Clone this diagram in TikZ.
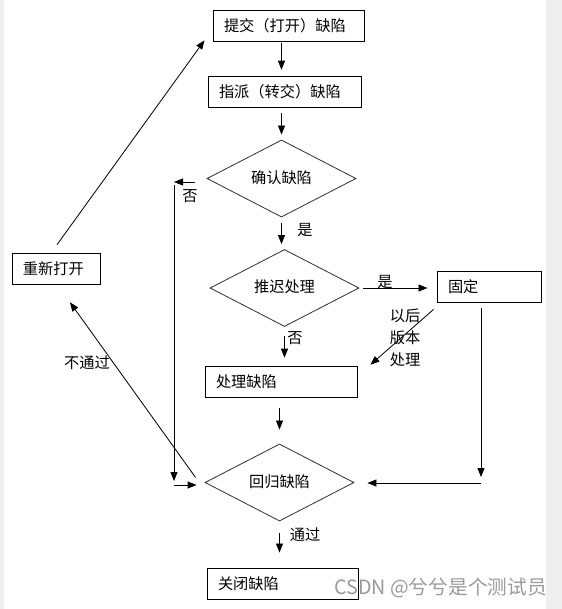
\documentclass[tikz,border=0pt]{standalone}
\usepackage{fontspec}
\usepackage{xcolor}
\usetikzlibrary{arrows.meta,positioning,shapes.geometric,calc}
\newfontfamily\cjk{Noto Sans CJK SC}
\definecolor{ink}{HTML}{000000}
\definecolor{rim}{HTML}{333333}
\definecolor{strip}{HTML}{EFEFEF}
\definecolor{stampgray}{HTML}{9A9A9A}

\begin{document}
\begin{tikzpicture}[
  x=0.3mm,y=-0.3mm,
  font=\cjk\fontsize{13}{15}\selectfont,
  >={Triangle[length=2.7mm,width=2.1mm]},
  arrow/.style={->,line width=0.7pt,draw=ink},
  card/.style={draw=ink,line width=0.8pt,inner xsep=3.3mm,inner ysep=0pt,
               minimum height=9.5mm,align=left,text=ink},
  choice/.style={diamond,draw=rim,line width=0.7pt,inner sep=0pt,
                 minimum width=44.7mm,minimum height=21.3mm,text=ink},
  tag/.style={inner sep=1pt,text=ink}
]
\useasboundingbox (0,0) rectangle (562,609);
\fill[white] (0,0) rectangle (562,609);
\fill[strip] (0,0) rectangle (4,609);
\fill[strip] (546,0) rectangle (562,609);

% Main column
\node[card,text width=38.7mm] (submit) at (288.5,26) {提交（打开）缺陷};
\node[card,text width=39.3mm] (assign) at (284.5,92) {指派（转交）缺陷};
\node[choice] (confirm) at (281.5,178.5) {\raisebox{1mm}{确认缺陷}};
\node[choice] (defer) at (284.5,288) {\raisebox{1mm}{推迟处理}};
\node[card,text width=39mm] (handle) at (281,382) {处理缺陷};
\node[choice] (regress) at (279.5,482.5) {\raisebox{1mm}{回归缺陷}};
\node[card,text width=38.7mm,minimum height=9.3mm] (close) at (282.5,583.5) {关闭缺陷};

% Side boxes
\node[card,text width=24.6mm,minimum height=9.3mm] (fixed) at (489,286.5) {固定};
\node[card,text width=19.8mm] (reopen) at (56,269) {重新打开};

% Turning points
\coordinate (noturn) at (174,182);
\coordinate (nodrop) at (174,485);
\coordinate (fixdrop) at (481,483);

% Labels
\node[tag] (yes1) at (305,230) {是};
\node[tag] (yes2) at (385,282) {是};
\node[tag] (no1) at (190,196) {否};
\node[tag] (no2) at (295,338) {否};
\node[tag] (pass) at (305,535) {通过};
\node[tag] (fail) at (87,363) {不通过};
\node[tag,align=center,font=\cjk\fontsize{13}{19}\selectfont] (later) at (405,338) {以后\\版本\\处理};

% Arrows
\draw[arrow,shorten <=0.3mm,shorten >=1.8mm] (submit.south -| confirm.north) -- (assign.north -| confirm.north);
\draw[arrow,shorten <=1.5mm,shorten >=1.5mm] (assign.south -| confirm.north) -- (confirm.north);
\draw[arrow,shorten <=1.8mm,shorten >=1.5mm] (confirm.south) -- (confirm.south |- defer.north);
\draw[arrow,shorten <=1.2mm,shorten >=2.7mm] (defer.east) -- (fixed.west |- defer.east);
\draw[arrow,shorten <=2.7mm,shorten >=2.4mm] (defer.south) -- (defer.south |- handle.north);
\draw[arrow,shorten <=3mm,shorten >=4.2mm] (handle.south -| regress.north) -- (regress.north);
\draw[arrow,shorten <=3.6mm,shorten >=4.5mm] (regress.south) -- (regress.south |- close.north);
\draw[arrow] ([shift={(-3,7)}]fixed.south west) -- ([shift={(13,-1)}]handle.north east);
\draw[arrow,shorten <=1.8mm,shorten >=1.8mm] (fixed.south -| fixdrop) -- (fixdrop);
\draw[arrow,shorten >=3.9mm] (fixdrop) -- (regress.east |- fixdrop);
\draw[arrow,shorten <=3.6mm] (confirm.west |- noturn) -- (noturn);
\draw[arrow,shorten <=0.9mm,shorten >=1.2mm] (noturn) -- (nodrop);
\draw[arrow,shorten >=2.4mm] (nodrop) -- (regress.west |- nodrop);
\draw[arrow] ([shift={(1,-8)}]reopen.north) -- ([shift={(-8,-2)}]submit.south west);
\draw[arrow] ([shift={(-9,-5)}]regress.west) -- ([shift={(14,17)}]reopen.south);

% Watermark
\node[text=stampgray,font=\cjk\fontsize{16.8}{19}\selectfont,anchor=east,inner sep=0pt] (stamp) at (547,588) {CSDN @兮兮是个测试员};

\end{tikzpicture}
\end{document}
